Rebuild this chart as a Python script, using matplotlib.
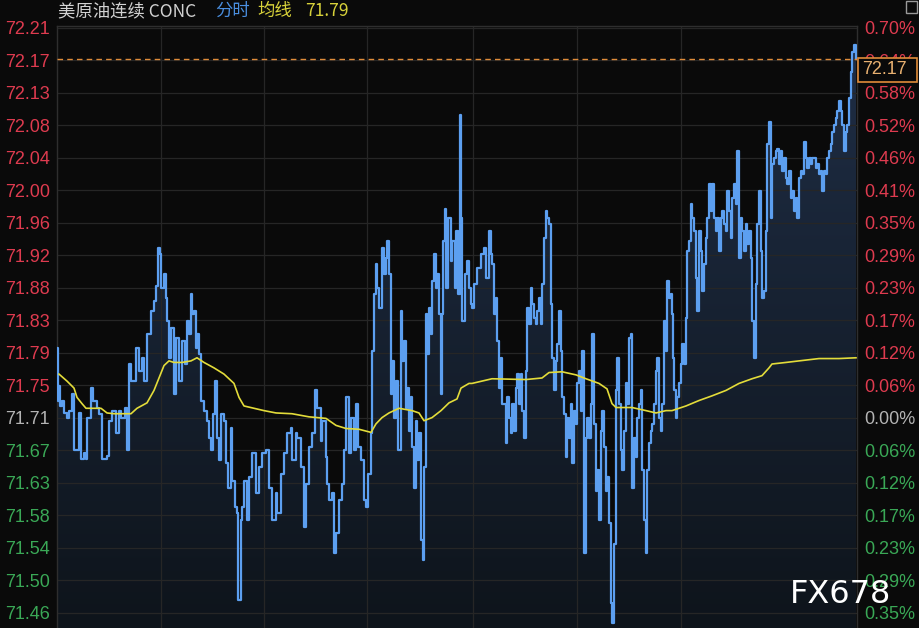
import matplotlib
matplotlib.use("Agg")
import matplotlib.pyplot as plt
import numpy as np
from matplotlib.patches import Rectangle
from matplotlib.colors import LinearSegmentedColormap

# ---------------- data ----------------
title_name = "美原油连续 CONC"
title_mode = "分时"
title_avg = "均线"

prev_close = 71.71
tick_step = 0.04183
tick_k = list(range(-6, 13))
left_labels = ['71.46', '71.50', '71.54', '71.58', '71.63', '71.67', '71.71', '71.75', '71.79',
               '71.83', '71.88', '71.92', '71.96', '72.00', '72.04', '72.08', '72.13', '72.17', '72.21']
right_labels = ['0.35%', '0.29%', '0.23%', '0.17%', '0.12%', '0.06%', '0.00%', '0.06%', '0.12%',
                '0.17%', '0.23%', '0.29%', '0.35%', '0.41%', '0.46%', '0.52%', '0.58%', '0.64%', '0.70%']

minutes = [0, 1, 2, 3, 5, 7, 10, 12, 15, 17, 22, 24, 27, 29, 30, 34, 36, 40, 42, 45, 50, 52, 55, 59, 62, 64, 68, 70,
           72, 74, 79, 82, 85, 87, 90, 94, 97, 99, 101, 103, 104, 107, 109, 110, 112, 114, 117, 119, 122, 125, 128,
           130, 132, 134, 135, 137, 139, 140, 142, 144, 147, 150, 152, 154, 156, 158, 160, 162, 164, 167, 169, 171,
           174, 175, 178, 180, 181, 184, 185, 187, 190, 192, 195, 199, 202, 205,
           209, 212, 215, 219, 220, 224, 227, 230, 234, 235, 239, 240, 244, 247, 249, 252, 255, 258, 260, 264, 265,
           269, 270, 272, 275, 277, 279, 282, 285, 287, 289, 292, 294, 297, 299, 301, 304, 307, 309, 311, 314, 315,
           317, 319, 320, 322, 325, 327, 329, 330, 332, 334, 335, 337, 339, 341, 344, 345, 347, 349, 350, 352, 354,
           355, 357, 359, 360, 362, 364, 366, 367, 369, 370, 372, 374, 375, 377, 379, 380, 382, 384, 385, 386, 388,
           389, 391, 394, 395, 398, 399, 401, 403, 404, 405, 408, 410,
           412, 414, 415, 417, 420, 424, 427, 429, 432, 434, 435, 437, 439, 440, 442, 444, 445, 447, 449, 450, 452,
           454, 455, 457, 459, 460, 462, 464, 465, 467, 469, 470, 472, 474, 475, 477, 479, 480, 482, 484, 485, 487,
           489, 490, 492, 494, 495, 497, 499, 500, 502, 504, 505, 507, 509, 510, 512, 514, 515, 517, 519, 520, 522,
           524, 525, 527, 529, 530, 532, 534, 535, 537, 539, 540, 542, 544, 545, 547, 549, 550, 552, 554, 555, 557,
           559, 560, 562, 564, 565, 567, 569, 570, 572, 574, 575, 577, 579, 580, 582, 584, 585, 587, 589, 590, 592,
           594, 595, 597, 599, 600, 602, 604, 605, 607, 609, 610,
           612, 614, 615, 616, 617, 619, 620, 622, 624, 625, 627, 629, 630, 632, 634, 635, 637, 639, 640, 642, 644,
           645, 647, 649, 650, 652, 654, 655, 657, 659, 660, 662, 664, 665, 667, 669, 670, 672, 674, 675, 677, 679,
           680, 682, 684, 685, 687, 689, 690, 692, 694, 695, 697, 699, 700, 702, 704, 705, 707, 709, 710, 712, 714,
           715, 717, 719, 720, 722, 724, 725, 727, 729, 730, 732, 734, 735, 737, 739, 740, 742, 744, 745, 747, 749,
           750, 752, 754, 755, 757, 759, 760, 762, 764, 765, 767, 769, 770, 772, 774, 775, 777, 779, 780, 782, 784,
           785, 787, 789, 790, 792, 794, 795, 797, 799]

prices = [71.799, 71.732, 71.751, 71.725, 71.732, 71.716, 71.710, 71.719, 71.741, 71.668, 71.716, 71.657, 71.665,
          71.657, 71.710, 71.748, 71.732, 71.723, 71.715, 71.657, 71.661, 71.706, 71.719, 71.690, 71.719, 71.710,
          71.723, 71.668, 71.779, 71.757, 71.799, 71.770, 71.787, 71.757, 71.818, 71.847, 71.860, 71.879, 71.928,
          71.920, 71.877, 71.895, 71.864, 71.834, 71.787, 71.825, 71.741, 71.813, 71.757, 71.809, 71.779, 71.834,
          71.818, 71.869, 71.843, 71.847, 71.800, 71.818, 71.792, 71.732, 71.719, 71.706, 71.684, 71.668, 71.715,
          71.757, 71.684, 71.655, 71.715, 71.706, 71.651, 71.620, 71.697, 71.629, 71.595, 71.587, 71.475, 71.578,
          71.595, 71.629, 71.578, 71.633, 71.664, 71.613, 71.646, 71.664,
          71.668, 71.620, 71.578, 71.613, 71.587, 71.638, 71.664, 71.690, 71.697, 71.655, 71.690, 71.684, 71.646,
          71.569, 71.625, 71.672, 71.690, 71.745, 71.723, 71.680, 71.706, 71.659, 71.625, 71.604, 71.613, 71.536,
          71.561, 71.604, 71.625, 71.668, 71.736, 71.664, 71.710, 71.668, 71.728, 71.672, 71.655, 71.604, 71.595,
          71.638, 71.690, 71.796, 71.869, 71.908, 71.877, 71.851, 71.928, 71.895, 71.915, 71.937, 71.895, 71.741,
          71.783, 71.710, 71.757, 71.668, 71.847, 71.783, 71.809, 71.723, 71.748, 71.693, 71.736, 71.672, 71.620,
          71.706, 71.655, 71.690, 71.552, 71.527, 71.646, 71.843, 71.792, 71.851, 71.818, 71.886, 71.920, 71.877,
          71.895, 71.843, 71.741, 71.843, 71.937, 71.979, 71.877, 71.967, 71.911, 71.937, 71.877, 71.950, 71.869,
          72.100, 71.967, 71.834, 71.895, 71.911,
          71.877, 71.856, 71.851, 71.882, 71.902, 71.920, 71.928, 71.890, 71.950, 71.920, 71.908, 71.843, 71.864,
          71.809, 71.748, 71.787, 71.728, 71.728, 71.677, 71.736, 71.710, 71.690, 71.728, 71.693, 71.748, 71.766,
          71.728, 71.766, 71.719, 71.684, 71.770, 71.851, 71.831, 71.877, 71.856, 71.838, 71.831, 71.847, 71.864,
          71.831, 71.882, 71.941, 71.976, 71.967, 71.959, 71.856, 71.787, 71.745, 71.783, 71.805, 71.847, 71.796,
          71.736, 71.715, 71.659, 71.710, 71.684, 71.728, 71.651, 71.719, 71.702, 71.754, 71.770, 71.719, 71.796,
          71.536, 71.684, 71.710, 71.684, 71.728, 71.818, 71.702, 71.616, 71.642, 71.578, 71.693, 71.719, 71.672,
          71.616, 71.633, 71.574, 71.471, 71.446, 71.548, 71.745, 71.787, 71.728, 71.668, 71.642, 71.693, 71.754,
          71.728, 71.813, 71.818, 71.620, 71.684, 71.659, 71.710, 71.728, 71.745, 71.642, 71.578, 71.536, 71.642,
          71.677, 71.693, 71.702, 71.728, 71.770, 71.787, 71.710, 71.693, 71.728, 71.834, 71.796, 71.886,
          71.864, 71.869, 71.843, 71.787, 71.745, 71.710, 71.736, 71.754, 71.779, 71.805, 71.779, 71.838, 71.924,
          71.937, 71.985, 71.967, 71.950, 71.890, 71.847, 71.950, 71.924, 71.873, 71.908, 71.941, 71.967, 72.010,
          71.976, 72.010, 71.967, 71.950, 71.967, 71.924, 71.967, 71.976, 71.959, 71.950, 72.001, 71.976, 71.941,
          71.992, 72.010, 71.985, 72.053, 71.915, 71.967, 71.950, 71.924, 71.959, 71.933, 71.950, 71.915, 71.834,
          71.787, 71.882, 71.959, 72.001, 71.924, 71.864, 71.873, 71.950, 72.062, 72.091, 71.967, 72.036, 72.044,
          72.053, 72.056, 72.036, 72.053, 72.027, 72.044, 72.018, 72.010, 72.027, 71.992, 72.001, 71.976, 71.992,
          71.967, 72.018, 72.027, 72.023, 72.065, 72.044, 72.031, 72.044, 72.036, 72.044, 72.044, 72.031, 72.036,
          72.023, 72.027, 72.001, 72.027, 72.023, 72.044, 72.053, 72.062, 72.078, 72.087, 72.095, 72.104, 72.117,
          72.104, 72.087, 72.053, 72.078, 72.087, 72.121, 72.155, 72.181, 72.190, 72.171]

avg_minutes = [2, 10, 17, 20, 25, 29, 44, 50, 57, 74, 80, 90, 97, 102, 107, 112, 117, 125, 134, 140, 147, 157, 167,
               177, 182, 187, 197, 207, 219, 235, 252, 269, 279, 289, 302, 314, 319, 325, 332, 342, 355, 362, 367,
               375, 384, 392, 400, 404, 412, 415, 435, 469, 485, 492, 505, 519, 529, 542, 550, 555, 559, 575, 589,
               599, 609, 615, 629, 642, 655, 669, 682, 695, 705, 712, 715, 729, 742, 762, 782, 799]
avg_prices = [71.766, 71.757, 71.748, 71.736, 71.728, 71.722, 71.722, 71.716, 71.715, 71.715, 71.722, 71.729,
              71.745, 71.761, 71.777, 71.783, 71.781, 71.781, 71.783, 71.787, 71.781, 71.774, 71.766, 71.754,
              71.736, 71.725, 71.722, 71.719, 71.716, 71.715, 71.711, 71.709, 71.700, 71.696, 71.695, 71.691,
              71.702, 71.710, 71.716, 71.722, 71.719, 71.716, 71.706, 71.710, 71.719, 71.729, 71.734, 71.748,
              71.754, 71.754, 71.760, 71.759, 71.761, 71.768, 71.769, 71.765, 71.760, 71.754, 71.747, 71.728,
              71.723, 71.723, 71.719, 71.716, 71.719, 71.719, 71.725, 71.732, 71.738, 71.745, 71.754, 71.760,
              71.764, 71.774, 71.779, 71.781, 71.783, 71.786, 71.786, 71.787]

vgrid_minutes = [104, 207, 310, 416, 520, 624]

# ---------------- style ----------------
BG = '#0a0a0a'
RED = '#de3b4f'
GREEN = '#3aa856'
GRAY = '#b4b4b4'
BLUE = '#5c9ff0'
YELLOW = '#e3dc3a'
ORANGE = '#e08c3a'
GRID = '#262626'

W, H = 920, 628
fig = plt.figure(figsize=(W / 100, H / 100), dpi=100, facecolor=BG)
ax = fig.add_axes([57 / W, 0, 800 / W, (H - 26) / H], facecolor=BG)

ticks = [prev_close + k * tick_step for k in tick_k]
ymin = prev_close + (417 - 628) * tick_step / 32.6
ymax = prev_close + 12 * tick_step + 0.002

# gradient fill under price line
poly = ax.fill_between(minutes, prices, ymin, color='none', lw=0, step='post')
grad = np.linspace(1, 0, 256).reshape(-1, 1)
cmap = LinearSegmentedColormap.from_list('g', ['#0e141b', '#1f2e46'])
im = ax.imshow(grad, extent=[0, 800, ymin, ymax], aspect='auto', cmap=cmap, origin='upper',
               zorder=1, vmin=0, vmax=1)
im.set_clip_path(poly.get_paths()[0], transform=ax.transData)
ax.set_ylim(ymin, ymax)
ax.set_xlim(0, 800)

# grid
for t in ticks:
    ax.axhline(t, color=GRID, lw=0.9, zorder=2)
for v in vgrid_minutes:
    ax.axvline(v, color=GRID, lw=0.9, zorder=2)

ax.plot(minutes, prices, color=BLUE, lw=1.6, zorder=4, drawstyle='steps-post')
ax.plot(avg_minutes, avg_prices, color=YELLOW, lw=1.2, zorder=5)

last_price = prices[-1]
ax.axhline(last_price, color=ORANGE, lw=1.0, ls=(0, (4, 3)), zorder=6)

for s in ['left', 'right', 'top']:
    ax.spines[s].set_color('#2e2e2e')
    ax.spines[s].set_linewidth(1.0)
ax.spines['bottom'].set_visible(False)
ax.set_xticks([])

lab_font = dict(family=['Liberation Sans', 'DejaVu Sans'], size=13)
ax.set_yticks(ticks)
ax.set_yticklabels(left_labels, **lab_font)
ax.tick_params(axis='y', length=0, pad=5)


def col(k):
    return RED if k > 0 else (GREEN if k < 0 else GRAY)


for lab, k in zip(ax.get_yticklabels(), tick_k):
    lab.set_color(col(k))

ax2 = ax.twinx()
ax2.set_ylim(ymin, ymax)
ax2.set_yticks(ticks)
ax2.set_yticklabels(right_labels, **lab_font)
ax2.tick_params(axis='y', length=0, pad=5)
for lab, k in zip(ax2.get_yticklabels(), tick_k):
    lab.set_color(col(k))
for s in ax2.spines.values():
    s.set_visible(False)

# last-price box
fig.add_artist(Rectangle((858 / W, 1 - 82 / H), 59 / W, 24 / H, transform=fig.transFigure,
                         facecolor=BG, edgecolor=ORANGE, lw=1.2, zorder=10))
fig.text(862 / W, 1 - 70 / H, f"{last_price:.2f}", color='#e8b070', fontsize=13,
         family=['Liberation Sans', 'DejaVu Sans'], va='center', ha='left', zorder=11)

# title
tf = ['Noto Sans CJK SC', 'DejaVu Sans']
ty = 1 - 11 / H
fig.text(58 / W, ty, title_name, color='#d2d2d2', fontsize=12.5, family=tf, va='center')
fig.text(215 / W, ty, title_mode, color='#4a8fe0', fontsize=12.5, family=tf, va='center')
fig.text(257 / W, ty, title_avg, color='#d8d23a', fontsize=12.5, family=tf, va='center')
fig.text(305 / W, ty, f"{avg_prices[-1]:.2f}", color='#d8d23a', fontsize=12.5, family=tf, va='center')

# small icon top right
fig.add_artist(Rectangle((906 / W, 1 - 13 / H), 11 / W, 12 / H, transform=fig.transFigure,
                         facecolor='none', edgecolor='#9a9a9a', lw=1.0))

# watermark
fig.text(790 / W, 1 - 603 / H, "FX678", color='white', fontsize=23, family='DejaVu Sans',
         va='baseline', ha='left', zorder=12)

fig.savefig('out.png', dpi=100, facecolor=BG)
